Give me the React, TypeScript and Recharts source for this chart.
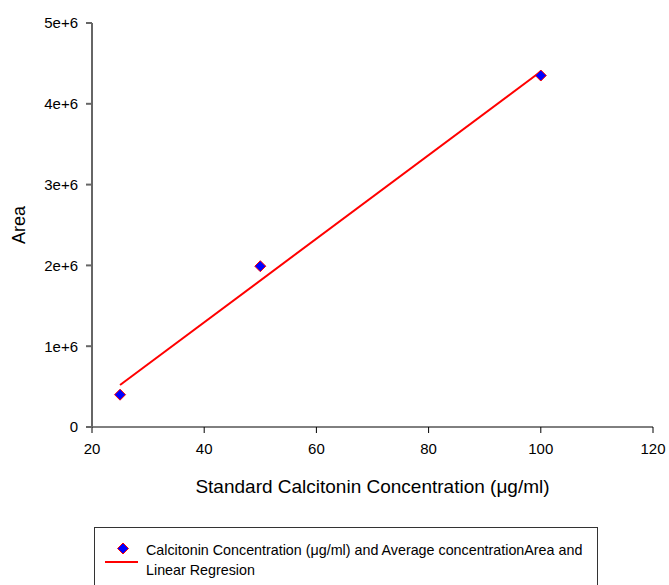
import { ScatterChart, Scatter, XAxis, YAxis } from "recharts";

// standard concentrations (µg/ml) and measured average areas
const concentrations = [25, 50, 100];
const areas = [400000, 1990000, 4350000];

// fitted regression line, read at its two ends
const fitX = [25, 100];
const fitY = [520000, 4400000];

const xTicks = [20, 40, 60, 80, 100, 120];
const yTicks = [0, 1000000, 2000000, 3000000, 4000000, 5000000];

const points = concentrations.map((x, i) => ({ x, y: areas[i] }));
const fit = fitX.map((x, i) => ({ x, y: fitY[i] }));

const FONT = "'Liberation Sans', Arial, sans-serif";

const fmtY = (v: number) => (v === 0 ? "0" : `${v / 1000000}e+6`);

const Diamond = (props: any) => {
  const { cx, cy } = props;
  const r = 5.5;
  return (
    <polygon
      points={`${cx},${cy - r} ${cx + r},${cy} ${cx},${cy + r} ${cx - r},${cy}`}
      fill="#0000ff"
      stroke="#ff0000"
      strokeWidth={1}
    />
  );
};

const YLabel = (props: any) => {
  const { viewBox } = props;
  const x = 19;
  const y = viewBox.y + viewBox.height / 2;
  return (
    <text
      x={x}
      y={y}
      transform={`rotate(-90 ${x} ${y})`}
      textAnchor="middle"
      dominantBaseline="central"
      fontSize={18}
      fill="#000"
      fontFamily={FONT}
    >
      Area
    </text>
  );
};

export default function App() {
  return (
    <div style={{ position: "absolute", left: 0, top: 0, width: 669, height: 585, background: "#fff", overflow: "hidden", fontFamily: FONT }}>
      <ScatterChart width={669} height={585} margin={{ top: 23, right: 16, bottom: 88, left: 0 }}>
        <XAxis
          type="number"
          dataKey="x"
          domain={[20, 120]}
          ticks={xTicks}
          interval={0}
          stroke="#000"
          tickSize={6}
          tickMargin={10}
          height={70}
          tick={{ fontSize: 15, fill: "#000", fontFamily: FONT }}
          label={{
            value: "Standard Calcitonin Concentration  (\u03bcg/ml)",
            position: "insideBottom",
            offset: 4.5,
            fontSize: 19,
            fill: "#000",
            fontFamily: FONT,
          }}
        />
        <YAxis
          type="number"
          dataKey="y"
          domain={[0, 5000000]}
          ticks={yTicks}
          interval={0}
          width={92}
          stroke="#666"
          strokeWidth={2}
          tickSize={6}
          tickMargin={8}
          tickFormatter={fmtY}
          tick={{ fontSize: 15, fill: "#000", fontFamily: FONT }}
          label={<YLabel />}
        />
        <Scatter
          data={fit}
          line={{ stroke: "#ff0000", strokeWidth: 2 }}
          shape={() => <g />}
          isAnimationActive={false}
        />
        <Scatter data={points} shape={<Diamond />} isAnimationActive={false} />
      </ScatterChart>
      <div
        style={{
          position: "absolute",
          left: 94,
          top: 527,
          width: 502,
          height: 80,
          border: "1px solid #333",
          fontSize: 14.3,
          color: "#000",
        }}
      >
        <svg width={50} height={60} style={{ position: "absolute", left: 0, top: 0 }}>
          <polygon points="28,15 33.5,20.5 28,26 22.5,20.5" fill="#0000ff" stroke="#ff0000" strokeWidth={1} />
          <line x1={10} x2={43} y1={34} y2={34} stroke="#ff0000" strokeWidth={2} />
        </svg>
        <div style={{ position: "absolute", left: 51, top: 12, lineHeight: "20px", whiteSpace: "nowrap" }}>
          <div>Calcitonin Concentration (&mu;g/ml) and Average concentrationArea and</div>
          <div>Linear Regresion</div>
        </div>
      </div>
    </div>
  );
}
